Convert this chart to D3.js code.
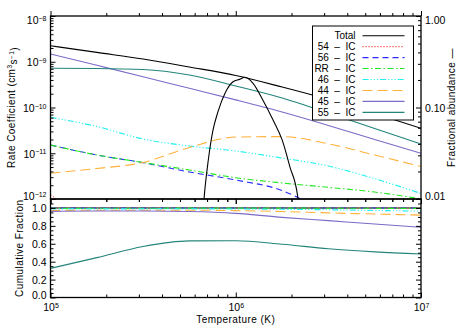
<!DOCTYPE html>
<html>
<head>
<meta charset="utf-8">
<script src="https://cdn.jsdelivr.net/npm/d3@7"></script>
<style>
    body { margin: 0; background: #fff; }
    svg { font-family: "Liberation Sans", Arial, sans-serif; }
    .axis line { stroke: #000; stroke-width: 1px; }
    .axis text { font-size: 10.5px; fill: #000; }
    .frame { fill: none; stroke: #000; stroke-width: 1.3px; }
    .series { fill: none; stroke-width: 1.1px; }
    .title { font-size: 10px; letter-spacing: 0.45px; }
</style>
</head>
<body>
<div id="chart"></div>
<script>
// temperature grid (K)
let temps = [1e5, 1.78e5, 3.16e5, 5.62e5, 1e6, 1.78e6, 3.16e6, 5.62e6, 1e7]

// rate coefficients (cm^3 s^-1), upper panel
let rateTotal = [2.24e-9, 1.60e-9, 1.15e-9, 7.68e-10, 5.00e-10, 2.80e-10, 1.50e-10, 7.40e-11, 3.52e-11]
let rate45 = [1.48e-9, 8.35e-10, 4.71e-10, 2.63e-10, 1.47e-10, 7.97e-11, 4.05e-11, 2.00e-11, 9.97e-12]
let rate55 = [7.20e-10, 7.12e-10, 6.77e-10, 5.13e-10, 2.95e-10, 1.61e-10, 7.59e-11, 3.48e-11, 1.59e-11]
let rate44 = [3.65e-12, 4.65e-12, 6.28e-12, 1.34e-11, 2.26e-11, 2.31e-11, 1.61e-11, 9.16e-12, 5.13e-12]
let rate46 = [6.11e-11, 3.85e-11, 2.05e-11, 1.44e-11, 1.12e-11, 7.87e-12, 5.26e-12, 2.78e-12, 1.32e-12]
let rateRR = [1.51e-11, 9.16e-12, 6.28e-12, 4.31e-12, 2.92e-12, 2.24e-12, 1.80e-12, 1.42e-12, 1.01e-12]
let temps56 = [1e5, 1.78e5, 3.16e5, 5.62e5, 1e6, 1.78e6, 3.16e6]
let rate56 = [1.51e-11, 9.16e-12, 6.21e-12, 3.89e-12, 2.60e-12, 1.53e-12, 4.5e-13]
let temps54 = [1e5, 1.12e5, 1.41e5]
let rate54 = [1.22e-12, 9.0e-13, 4.0e-13]

// fractional abundance (right axis)
let abTemps = [6.53e5, 6.74e5, 7.11e5, 7.54e5, 8.02e5, 8.75e5, 9.67e5, 1.05e6, 1.12e6, 1.24e6, 1.40e6, 1.59e6, 1.78e6, 1.96e6, 2.16e6, 2.25e6]
let abFrac = [0.004, 0.0100, 0.0267, 0.0568, 0.090, 0.143, 0.191, 0.203, 0.214, 0.184, 0.121, 0.073, 0.0442, 0.0225, 0.0106, 0.005]

// cumulative fractions, lower panel
let cumTotal = [1, 1, 1, 1, 1, 1, 1, 1, 1]
let cum54 = [1, 1, 1, 1, 1, 1, 1, 1, 1]
let cum56 = [0.999, 0.999, 0.999, 0.999, 0.999, 0.999, 0.999, 0.999, 0.999]
let cumRR = [0.995, 0.996, 0.997, 0.998, 0.998, 0.998, 0.997, 0.996, 0.995]
let cum46 = [0.99, 0.99, 0.99, 0.99, 0.988, 0.985, 0.98, 0.972, 0.965]
let cum44 = [0.972, 0.975, 0.975, 0.975, 0.97, 0.96, 0.945, 0.932, 0.92]
let cum45 = [0.962, 0.966, 0.966, 0.96, 0.94, 0.895, 0.858, 0.82, 0.785]
let cum55 = [0.325, 0.445, 0.57, 0.632, 0.634, 0.595, 0.545, 0.51, 0.485]

// series styles, in drawing order
let series = [
    {label: "Total", color: "#000000", dash: null, t: temps, rate: rateTotal, cum: cumTotal},
    {label: "54  \u2013  IC", color: "#ff2020", dash: "1,2", t: temps54, rate: rate54, cum: cum54},
    {label: "56  \u2013  IC", color: "#2a2aff", dash: "6,4", t: temps56, rate: rate56, cum: cum56},
    {label: "RR  \u2013  IC", color: "#22e622", dash: "6,2.5,1.5,2.5", t: temps, rate: rateRR, cum: cumRR},
    {label: "46  \u2013  IC", color: "#22f0f0", dash: "6,2,1.2,2,1.2,2,1.2,2", t: temps, rate: rate46, cum: cum46},
    {label: "44  \u2013  IC", color: "#ffb23c", dash: "10,5", t: temps, rate: rate44, cum: cum44},
    {label: "45  \u2013  IC", color: "#7d6ac8", dash: null, t: temps, rate: rate45, cum: cum45},
    {label: "55  \u2013  IC", color: "#23857a", dash: null, t: temps, rate: rate55, cum: cum55}
]

let margin = {top: 16, right: 42, bottom: 33.5, left: 50.5}
let width = 463 - margin.left - margin.right
let topH = 183
let botH = 98.5

let svg = d3.select("#chart").append("svg")
    .attr("width", 463)
    .attr("height", 331)

let g = svg.append("g")
    .attr("transform", `translate(${margin.left},${margin.top})`)

// scales
let x = d3.scaleLog().domain([1e5, 1e7]).range([0, width])
let yRate = d3.scaleLog().domain([1e-12, 1e-8]).range([topH, 0])
let yFrac = d3.scaleLog().domain([0.01, 1]).range([topH, 0])
let yCum = d3.scaleLinear().domain([0, 1.1]).range([botH, 0])

let xMajor = [1e5, 1e6, 1e7]
let xMinor = [2, 3, 4, 5, 6, 7, 8, 9].flatMap(m => [m * 1e5, m * 1e6])
let rateMajor = [1e-12, 1e-11, 1e-10, 1e-9, 1e-8]
let rateMinor = [2, 3, 4, 5, 6, 7, 8, 9].flatMap(m => [m * 1e-12, m * 1e-11, m * 1e-10, m * 1e-9])
let fracMajor = [0.01, 0.1, 1]
let fracMinor = [2, 3, 4, 5, 6, 7, 8, 9].flatMap(m => [m * 0.01, m * 0.1])
let cumMajor = [0, 0.2, 0.4, 0.6, 0.8, 1.0]
let cumMinor = d3.range(0, 23).map(i => i * 0.05).filter(v => Math.round(v * 100) % 20 !== 0)

let topPanel = g.append("g")
let botPanel = g.append("g").attr("transform", `translate(0,${topH})`)

// clip paths
svg.append("defs").append("clipPath").attr("id", "clipTop")
    .append("rect").attr("width", width).attr("height", topH)
svg.select("defs").append("clipPath").attr("id", "clipBot")
    .append("rect").attr("width", width).attr("height", botH)

function tickAxis(parent, gen, values, size, transform) {
    let a = parent.append("g")
        .attr("class", "axis")
        .attr("transform", transform || null)
        .call(gen.tickValues(values).tickSize(size).tickSizeOuter(0).tickFormat(""))
    a.select(".domain").remove()
    return a
}

function powerLabels(axisG) {
    axisG.selectAll(".tick text").each(function(d) {
        let e = Math.round(Math.log10(d))
        let t = d3.select(this)
        t.text("10")
        t.append("tspan")
            .attr("dy", "-0.5em")
            .attr("font-size", "7px")
            .text(String(e).replace("-", "\u2212"))
    })
}

// ---- upper panel lines
let lineRate = d3.line()
    .x(d => x(d[0]))
    .y(d => yRate(d[1]))
    .curve(d3.curveMonotoneX)

let topLines = topPanel.append("g").attr("clip-path", "url(#clipTop)")

series.forEach(s => {
    topLines.append("path")
        .attr("class", "series")
        .attr("d", lineRate(s.t.map((t, i) => [t, s.rate[i]])))
        .attr("stroke", s.color)
        .attr("stroke-dasharray", s.dash)
})

let lineFrac = d3.line()
    .x(d => x(d[0]))
    .y(d => yFrac(d[1]))
    .curve(d3.curveMonotoneX)

topLines.append("path")
    .attr("class", "series")
    .attr("d", lineFrac(abTemps.map((t, i) => [t, abFrac[i]])))
    .attr("stroke", "#000")

// ---- lower panel lines
let lineCum = d3.line()
    .x(d => x(d[0]))
    .y(d => yCum(d[1]))
    .curve(d3.curveMonotoneX)

let botLines = botPanel.append("g").attr("clip-path", "url(#clipBot)")

series.forEach(s => {
    botLines.append("path")
        .attr("class", "series")
        .attr("d", lineCum(temps.map((t, i) => [t, s.cum[i]])))
        .attr("stroke", s.color)
        .attr("stroke-dasharray", s.dash)
})

// ---- upper panel axes
let leftTop = tickAxis(topPanel, d3.axisLeft(yRate).tickPadding(4), rateMajor, -5)
powerLabels(leftTop)
leftTop.selectAll(".tick text")
    .attr("dy", d => d === 1e-8 ? "0.75em" : d === 1e-12 ? "0.05em" : "0.4em")
tickAxis(topPanel, d3.axisLeft(yRate), rateMinor, -3)

let rightTop = tickAxis(topPanel, d3.axisRight(yFrac).tickPadding(4), fracMajor, -5, `translate(${width},0)`)
rightTop.selectAll(".tick text")
    .text(d => d3.format(".2f")(d))
    .attr("dy", d => d === 1 ? "0.7em" : d === 0.01 ? "0.05em" : "0.4em")
tickAxis(topPanel, d3.axisRight(yFrac), fracMinor, -3, `translate(${width},0)`)

tickAxis(topPanel, d3.axisTop(x), xMajor, -5, `translate(0,${topH})`)
tickAxis(topPanel, d3.axisTop(x), xMinor, -3, `translate(0,${topH})`)
tickAxis(topPanel, d3.axisBottom(x), xMajor, -5)
tickAxis(topPanel, d3.axisBottom(x), xMinor, -3)

topPanel.append("rect")
    .attr("class", "frame")
    .attr("width", width)
    .attr("height", topH)

// ---- lower panel axes
let leftBot = tickAxis(botPanel, d3.axisLeft(yCum).tickPadding(4), cumMajor, -5)
leftBot.selectAll(".tick text")
    .text(d => d3.format(".1f")(d))
    .attr("dy", d => d === 0 ? "0.05em" : "0.35em")
tickAxis(botPanel, d3.axisLeft(yCum), cumMinor, -3)
tickAxis(botPanel, d3.axisRight(yCum), cumMajor, -5, `translate(${width},0)`)
tickAxis(botPanel, d3.axisRight(yCum), cumMinor, -3, `translate(${width},0)`)

let bottomAxis = tickAxis(botPanel, d3.axisBottom(x).tickPadding(5), xMajor, -5, `translate(0,${botH})`)
powerLabels(bottomAxis)
bottomAxis.selectAll(".tick text").attr("dy", "0.85em")
tickAxis(botPanel, d3.axisBottom(x), xMinor, -3, `translate(0,${botH})`)
tickAxis(botPanel, d3.axisTop(x), xMajor, -5)
tickAxis(botPanel, d3.axisTop(x), xMinor, -3)

botPanel.append("rect")
    .attr("class", "frame")
    .attr("width", width)
    .attr("height", botH)

// ---- axis titles
let rateTitle = svg.append("text")
    .attr("class", "title")
    .attr("transform", `translate(15,${margin.top + topH / 2}) rotate(-90)`)
    .attr("text-anchor", "middle")
rateTitle.append("tspan").text("Rate Coefficient (cm")
rateTitle.append("tspan").attr("dy", "-0.45em").attr("font-size", "6.5px").text("3")
rateTitle.append("tspan").attr("dy", "0.45em").text("s")
rateTitle.append("tspan").attr("dy", "-0.45em").attr("font-size", "6.5px").text("\u22121")
rateTitle.append("tspan").attr("dy", "0.45em").text(")")

svg.append("text")
    .attr("class", "title")
    .attr("transform", `translate(23,${margin.top + topH + botH / 2}) rotate(-90)`)
    .attr("text-anchor", "middle")
    .text("Cumulative Fraction")

svg.append("text")
    .attr("class", "title")
    .attr("transform", `translate(455,${margin.top + topH / 2}) rotate(-90)`)
    .attr("text-anchor", "middle")
    .text("Fractional abundance \u2014")

svg.append("text")
    .attr("class", "title")
    .attr("x", margin.left + width / 2)
    .attr("y", 323)
    .attr("text-anchor", "middle")
    .text("Temperature (K)")

// ---- legend
let legend = svg.append("g")
    .attr("transform", "translate(312.5,26)")

legend.append("rect")
    .attr("width", 101)
    .attr("height", 94)
    .attr("fill", "#fff")
    .attr("stroke", "#000")
    .attr("stroke-width", 1)

let rows = legend.selectAll(".row")
    .data(series)
    .enter().append("g")
    .attr("class", "row")
    .attr("transform", (d, i) => `translate(0,${9.7 + i * 10.95})`)

rows.append("text")
    .attr("x", 43)
    .attr("dy", "0.35em")
    .attr("text-anchor", "end")
    .attr("font-size", "10px")
    .style("white-space", "pre")
    .text(d => d.label)

rows.append("line")
    .attr("x1", 50)
    .attr("x2", 92)
    .attr("stroke", d => d.color)
    .attr("stroke-width", 1.1)
    .attr("stroke-dasharray", d => d.dash)
</script>
</body>
</html>
